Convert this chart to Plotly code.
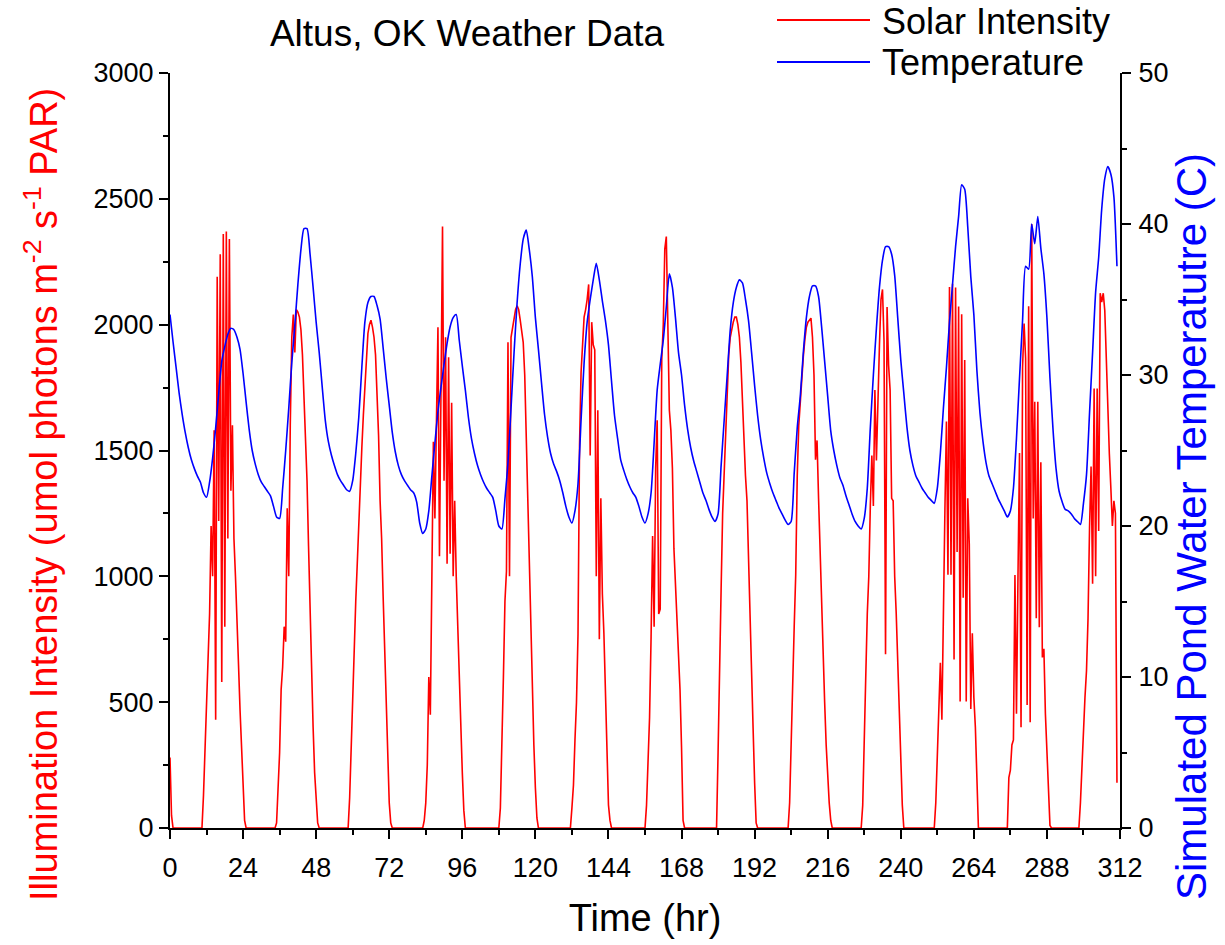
import plotly.graph_objects as go

# ---------------- data ----------------
# Solar intensity, half-hourly samples, one list per 24-h block (umol photons m-2 s-1 PAR)
solar_day00 = [280, 50,
               0, 0, 0, 0, 0, 0, 0, 0, 0, 0, 0, 0, 0, 0, 0, 0, 0, 0, 0, 0,
               130, 300, 450, 700, 850, 1200, 1000, 1580, 430, 2190, 1220, 2280, 580, 2360, 800, 2370,
               1150, 2340, 1340, 1600, 1150, 1000, 850, 650, 470, 330]
solar_day01 = [214, 30,
               0, 0, 0, 0, 0, 0, 0, 0, 0, 0, 0, 0, 0, 0, 0, 0, 0, 0, 0, 0,
               20, 140, 300, 550, 640, 800, 740, 1270, 1000, 1600, 1950, 2040, 1890, 2060, 2050, 2030,
               1980, 1880, 1720, 1550, 1380, 1120, 854, 620, 400, 220]
solar_day02 = [90, 20,
               0, 0, 0, 0, 0, 0, 0, 0, 0, 0, 0, 0, 0, 0, 0, 0, 0, 0, 0, 0,
               120, 320, 550, 760, 900, 1050, 1230, 1380, 1510, 1640, 1767, 1870, 1965, 2000, 2018, 1990,
               1950, 1880, 1750, 1560, 1300, 1150, 920, 700, 480, 245]
solar_day03 = [100, 20,
               0, 0, 0, 0, 0, 0, 0, 0, 0, 0, 0, 0, 0, 0, 0, 0, 0, 0, 0, 0,
               0, 30, 100, 250, 600, 450, 1000, 1535, 1230, 1690, 1990, 1080, 1920, 2390, 1380, 1950,
               1050, 1870, 1090, 1690, 1000, 1300, 1000, 780, 580, 400]
solar_day04 = [220, 70,
               0, 0, 0, 0, 0, 0, 0, 0, 0, 0, 0, 0, 0, 0, 0, 0, 0, 0, 0, 0, 0, 0,
               0, 80, 300, 600, 900, 1020, 1930, 1000, 1950, 1990, 2030, 2060, 2075, 2060,
               2020, 1980, 1930, 1800, 1550, 1310, 1000, 760, 520, 330]
solar_day05 = [160, 40,
               0, 0, 0, 0, 0, 0, 0, 0, 0, 0, 0, 0, 0, 0, 0, 0, 0, 0, 0, 0, 0, 0,
               80, 170, 350, 500, 770, 1520, 1810, 1920, 2030, 2060, 2100, 2160, 1480, 2010,
               1920, 1900, 1000, 1660, 750, 1310, 930, 774, 550, 300]
solar_day06 = [92, 30,
               0, 0, 0, 0, 0, 0, 0, 0, 0, 0, 0, 0, 0, 0, 0, 0, 0, 0, 0, 0, 0, 0, 0,
               90, 250, 440, 760, 1160, 800, 1430, 1620, 850, 870, 1860, 2000, 2300,
               2350, 2000, 1660, 1580, 1430, 1110, 960, 854, 700, 549]
solar_day07 = [320, 30,
               0, 0, 0, 0, 0, 0, 0, 0, 0, 0, 0, 0, 0, 0, 0, 0, 0, 0, 0, 0, 0, 0,
               300, 700, 950, 1250, 1420, 1600, 1730, 1880, 1950, 1985, 2011, 2030, 2030, 2000,
               1950, 1850, 1700, 1500, 1400, 1300, 1050, 854, 650, 397]
solar_day08 = [180, 20,
               0, 0, 0, 0, 0, 0, 0, 0, 0, 0, 0, 0, 0, 0, 0, 0, 0, 0, 0, 0, 0,
               100, 300, 550, 800, 1006, 1400, 1600, 1700, 1800, 1874, 1940, 1990, 2010, 2020, 2026,
               1950, 1800, 1463, 1540, 1310, 1080, 850, 700, 500, 330]
solar_day09 = [200, 100, 30,
               0, 0, 0, 0, 0, 0, 0, 0, 0, 0, 0, 0, 0, 0, 0, 0, 0, 0, 0, 0,
               90, 400, 600, 850, 1000, 1280, 1480, 1280, 1740, 1460, 1750, 1920, 2100, 2140, 1935,
               690, 2070, 1840, 1740, 1310, 1300, 1000, 854, 650, 473]
solar_day10 = [300, 92,
               0, 0, 0, 0, 0, 0, 0, 0, 0, 0, 0, 0, 0, 0, 0, 0, 0, 0, 0, 0, 0,
               100, 300, 550, 657, 430, 930, 1265, 1615, 1006, 2150, 1006, 2163, 670, 2148, 1097,
               2072, 503, 2041, 915, 1860, 503, 1310, 1128, 473, 774]
solar_day11 = [519, 400, 200,
               0, 0, 0, 0, 0, 0, 0, 0, 0, 0, 0, 0, 0, 0, 0, 0, 0, 0, 0, 0,
               200, 230, 330, 350, 1005, 454, 1005, 1490, 400, 1830, 2005, 1866, 489, 2073, 420,
               2400, 1230, 1694, 833, 1694, 798, 1453, 678, 712, 454]
solar_day12 = [281, 100, 10,
               0, 0, 0, 0, 0, 0, 0, 0, 0, 0, 0, 0, 0, 0, 0, 0, 0, 0, 0,
               100, 250, 400, 520, 626, 833, 1195, 1436, 971, 1746, 1000, 1746, 1180, 2125, 2090,
               2125, 2056, 1832, 1660, 1487, 1349, 1200, 1300, 1250, 180]

# Simulated pond water temperature, hourly samples (deg C)
temp_day00 = [34.0, 32.2, 30.5, 28.8, 27.4, 26.2, 25.2, 24.4, 23.8, 23.3, 22.9, 22.2,
              21.9, 22.9, 24.5, 26.5, 28.8, 30.9, 31.9, 32.7, 33.1, 33.0, 32.5, 31.7]
temp_day01 = [30.1, 28.2, 26.4, 25.0, 24.1, 23.4, 22.9, 22.6, 22.3, 22.0, 21.3, 20.6,
              20.5, 22.5, 25.0, 27.8, 30.8, 33.3, 36.0, 38.3, 39.7, 39.7, 38.0, 35.8]
temp_day02 = [33.5, 31.5, 29.2, 27.0, 25.6, 24.7, 24.0, 23.4, 23.0, 22.7, 22.4, 22.3,
              23.0, 24.8, 27.2, 30.5, 33.5, 34.8, 35.2, 35.2, 34.6, 33.7, 31.8, 29.8]
temp_day03 = [28.0, 26.2, 24.9, 24.0, 23.4, 23.0, 22.7, 22.4, 22.2, 21.6, 20.2, 19.5,
              19.8, 21.0, 23.3, 25.5, 27.6, 29.2, 30.7, 32.1, 33.2, 33.8, 34.0, 32.3]
temp_day04 = [30.6, 29.0, 27.2, 25.8, 24.8, 24.0, 23.4, 22.9, 22.5, 22.2, 21.9, 21.0,
              20.0, 19.8, 21.8, 24.2, 27.8, 31.5, 34.8, 37.3, 39.0, 39.6, 38.3, 36.5]
temp_day05 = [33.8, 31.7, 29.5, 27.4, 25.9, 24.8, 24.1, 23.6, 23.0, 22.2, 21.3, 20.6,
              20.2, 21.0, 22.8, 27.0, 30.8, 33.5, 35.0, 36.3, 37.4, 36.3, 34.9, 33.6]
temp_day06 = [32.0, 29.6, 27.3, 25.8, 24.4, 23.7, 23.1, 22.6, 22.2, 21.9, 21.3, 20.6,
              20.2, 20.8, 22.2, 25.5, 29.0, 30.7, 32.3, 34.5, 36.7, 35.8, 33.8, 31.5]
temp_day07 = [30.0, 28.0, 26.4, 25.2, 24.3, 23.6, 22.9, 22.2, 21.7, 21.1, 20.6, 20.3,
              20.8, 24.0, 27.0, 30.0, 33.0, 34.8, 35.8, 36.3, 36.1, 35.0, 33.6, 31.5]
temp_day08 = [29.3, 27.3, 25.7, 24.5, 23.5, 22.8, 22.2, 21.7, 21.2, 20.8, 20.4, 20.1,
              20.3, 23.5, 26.5, 28.6, 31.5, 33.8, 35.2, 35.9, 35.9, 35.2, 33.2, 30.9]
temp_day09 = [28.6, 26.3, 25.0, 24.0, 23.2, 22.7, 22.0, 21.4, 20.8, 20.3, 20.0, 19.8,
              20.5, 22.5, 26.5, 30.0, 33.1, 35.8, 37.6, 38.5, 38.5, 38.0, 36.6, 33.8]
temp_day10 = [31.0, 28.8, 26.6, 25.0, 24.0, 23.3, 22.9, 22.5, 22.2, 21.9, 21.7, 21.5,
              22.5, 24.8, 27.8, 30.5, 33.5, 36.0, 38.5, 40.5, 42.6, 42.3, 39.8, 36.5]
temp_day11 = [34.0, 30.3, 27.5, 25.6, 24.2, 23.3, 22.8, 22.3, 21.8, 21.4, 21.0, 20.6,
              21.0, 22.5, 25.8, 29.8, 33.6, 37.2, 37.0, 40.0, 38.7, 40.5, 38.4, 36.7]
temp_day12 = [33.8, 29.8, 26.4, 23.8, 22.3, 21.6, 21.1, 21.0, 20.8, 20.5, 20.3, 20.1,
              21.5, 23.4, 27.5, 31.5, 35.5, 37.8, 41.0, 43.0, 43.8, 43.3, 41.8, 37.2]

# axes / tick labels
x_tick_vals = [0, 24, 48, 72, 96, 120, 144, 168, 192, 216, 240, 264, 288, 312]
y_tick_vals = [0, 500, 1000, 1500, 2000, 2500, 3000]
y2_tick_vals = [0, 10, 20, 30, 40, 50]

# ---------------- assemble ----------------
solar = (solar_day00 + solar_day01 + solar_day02 + solar_day03 + solar_day04 + solar_day05 +
         solar_day06 + solar_day07 + solar_day08 + solar_day09 + solar_day10 + solar_day11 +
         solar_day12)
solar_time = [0.5 * i for i in range(len(solar))]

temp = (temp_day00 + temp_day01 + temp_day02 + temp_day03 + temp_day04 + temp_day05 +
        temp_day06 + temp_day07 + temp_day08 + temp_day09 + temp_day10 + temp_day11 +
        temp_day12)
temp_time = [float(i) for i in range(len(temp))]

RED = "#FF0000"
BLUE = "#0000FF"
FONT = "Liberation Sans, Arial, sans-serif"

fig = go.Figure()
fig.add_trace(go.Scatter(x=solar_time, y=solar, mode="lines", name="Solar Intensity",
                         line=dict(color=RED, width=1.6), showlegend=False))
fig.add_trace(go.Scatter(x=temp_time, y=temp, mode="lines", name="Temperature", yaxis="y2",
                         line=dict(color=BLUE, width=1.6, shape="spline", smoothing=0.6),
                         showlegend=False))

axis_common = dict(showline=True, linewidth=2, linecolor="black", showgrid=False, zeroline=False,
                   ticks="outside", ticklen=9, tickwidth=2, tickcolor="black",
                   tickfont=dict(size=27, color="black", family=FONT))

# plot box in pixels: x 170..1120, y 73..828
def px_x(p):
    return (p - 170) / 950.0

def px_y(p):
    return (828 - p) / 755.0

fig.update_layout(
    width=1225, height=945,
    margin=dict(l=170, r=105, t=73, b=117),
    plot_bgcolor="white", paper_bgcolor="white",
    font=dict(family=FONT, color="black", size=27),
    title=dict(text="Altus, OK Weather Data", xref="paper", x=px_x(467), xanchor="center",
               yref="container", y=1 - 33 / 945.0, yanchor="middle",
               font=dict(size=37, color="black", family=FONT)),
    xaxis=dict(range=[0, 312], tickmode="array", tickvals=x_tick_vals,
               ticktext=[str(v) for v in x_tick_vals], ticklabelstandoff=6,
               title=dict(text="Time (hr)", standoff=22,
                          font=dict(size=38, color="black", family=FONT)),
               minor=dict(dtick=12, tick0=0, ticks="outside", ticklen=5, tickwidth=2,
                          tickcolor="black"),
               **axis_common),
    yaxis=dict(range=[0, 3000], tickmode="array", tickvals=y_tick_vals,
               ticktext=[str(v) for v in y_tick_vals],
               minor=dict(dtick=250, tick0=0, ticks="outside", ticklen=5, tickwidth=2,
                          tickcolor="black"),
               **axis_common),
    yaxis2=dict(range=[0, 50], overlaying="y", side="right", anchor="x",
                tickmode="array", tickvals=y2_tick_vals,
                ticktext=[str(v) for v in y2_tick_vals], ticklabelstandoff=2,
                minor=dict(dtick=5, tick0=0, ticks="outside", ticklen=5, tickwidth=2,
                           tickcolor="black"),
                **axis_common),
    showlegend=False,
)

annotations = [
    dict(text="Illumination Intensity (umol photons m<sup>-2</sup> s<sup>-1</sup> PAR)",
         x=px_x(41), y=px_y(495), xref="paper", yref="paper", textangle=-90,
         xanchor="center", yanchor="middle", showarrow=False,
         font=dict(size=38, color=RED, family=FONT)),
    dict(text="Simulated Pond Water Temperatutre (C)",
         x=px_x(1191), y=px_y(527), xref="paper", yref="paper", textangle=-90,
         xanchor="center", yanchor="middle", showarrow=False,
         font=dict(size=42, color=BLUE, family=FONT)),
    dict(text="Solar Intensity", x=px_x(880), y=px_y(21), xref="paper", yref="paper",
         xanchor="left", yanchor="middle", showarrow=False,
         font=dict(size=36, color="black", family=FONT)),
    dict(text="Temperature", x=px_x(880), y=px_y(63), xref="paper", yref="paper",
         xanchor="left", yanchor="middle", showarrow=False,
         font=dict(size=36, color="black", family=FONT)),
]
fig.update_layout(annotations=annotations)

shapes = [
    dict(type="line", xref="paper", yref="paper", x0=px_x(777), x1=px_x(870),
         y0=px_y(20), y1=px_y(20), line=dict(color=RED, width=2)),
    dict(type="line", xref="paper", yref="paper", x0=px_x(777), x1=px_x(870),
         y0=px_y(62), y1=px_y(62), line=dict(color=BLUE, width=2)),
]
fig.update_layout(shapes=shapes)

fig.write_html("out.html")
